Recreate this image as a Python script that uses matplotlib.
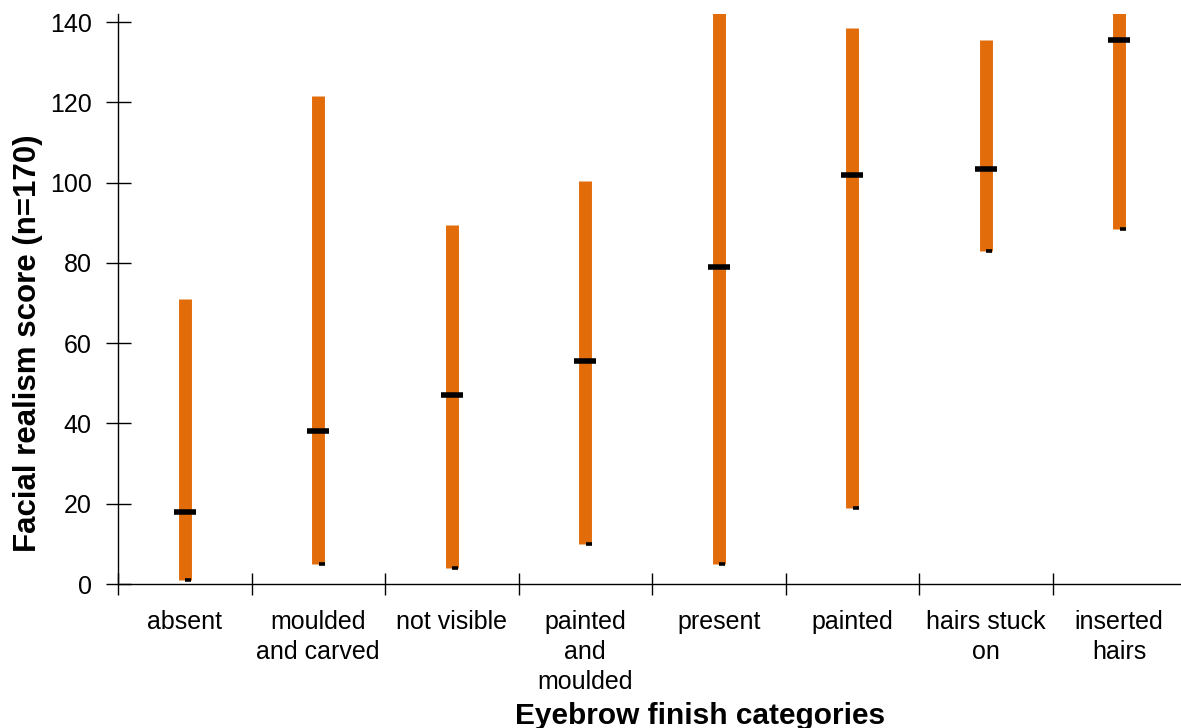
import numpy as np
import matplotlib.pyplot as plt

plt.rcParams['font.family'] = ['Liberation Sans', 'DejaVu Sans']

categories = ['absent', 'moulded\nand carved', 'not visible', 'painted\nand\nmoulded',
              'present', 'painted', 'hairs stuck\non', 'inserted\nhairs']
high = [71, 121.5, 89.5, 100.5, 145, 138.5, 135.5, 145]
median = [18, 38, 47, 55.5, 79, 102, 103.5, 135.5]
low = [1, 5, 4, 10, 5, 19, 83, 88.5]

orange = '#E36C0A'
x = np.arange(1, len(categories) + 1)

fig = plt.figure(figsize=(11.81, 7.28), dpi=100)
ax = fig.add_axes([118 / 1181, 1 - 584 / 728, 1068 / 1181, 570 / 728])

# high-low bars
ax.vlines(x, low, high, color=orange, linewidth=9.3)
# median dash
ax.plot(x, median, ls='none', marker='_', color='black', markersize=16.5, markeredgewidth=4)
# small dash at the low end
ax.plot(x + 0.028, low, ls='none', marker='_', color='black', markersize=4.5, markeredgewidth=2.6)

ax.set_xlim(0.5, 8.5)
ax.set_ylim(0, 142)
ax.set_yticks(np.arange(0, 141, 20))
ax.set_xticks(np.arange(0.5, 8.6, 1))
ax.set_xticklabels([])
ax.set_xticks(x, minor=True)
ax.set_xticklabels(categories, minor=True, fontsize=18, linespacing=1.3)
ax.tick_params(axis='x', which='minor', length=0, pad=19)
ax.tick_params(axis='x', which='major', direction='inout', length=16, width=1)
ax.tick_params(axis='y', direction='inout', length=18, width=1, pad=10, labelsize=18)

for s in ['top', 'right']:
    ax.spines[s].set_visible(False)
for s in ['left', 'bottom']:
    ax.spines[s].set_linewidth(1)
ax.spines['left'].set_bounds(0, 142)

ax.set_ylabel('Facial realism score (n=170)', fontsize=22.5, fontweight='bold')
ax.yaxis.label.set_va('center')
ax.yaxis.set_label_coords(-0.084, 0.423)
ax.set_xlabel('Eyebrow finish categories', fontsize=21.5, fontweight='bold')
ax.xaxis.label.set_va('center')
ax.xaxis.set_label_coords(0.545, -0.231)

fig.savefig('out.png', dpi=100)
